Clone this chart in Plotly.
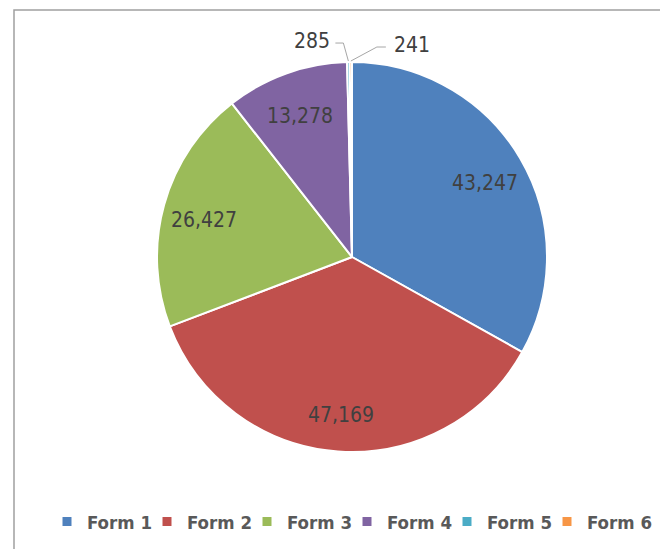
import math
import plotly.graph_objects as go

categories = ["Form 1", "Form 2", "Form 3", "Form 4", "Form 5", "Form 6"]
values = [43247, 47169, 26427, 13278, 285, 241]
colors = ["#4F81BD", "#C0504D", "#9BBB59", "#8064A2", "#4BACC6", "#F79646"]

W, H = 668, 549
OFF = 8  # page body margin
CX, CY, R = 352, 257, 195
FONT = "Liberation Sans Narrow, DejaVu Sans Condensed, Arial Narrow, sans-serif"
LABEL_COLOR = "#404040"
LEGEND_PITCH = 100
LEG_X0 = 47


def px(x, y):
    return (x - OFF) / W, 1 - (y - OFF) / H


fig = go.Figure()
x0, y0 = px(CX - R, CY + R)
x1, y1 = px(CX + R, CY - R)
fig.add_trace(go.Pie(
    labels=categories, values=values, sort=False, direction="clockwise", rotation=0,
    marker=dict(colors=colors, line=dict(color="white", width=2)),
    textinfo="none", hoverinfo="label+value", showlegend=False,
    domain=dict(x=[x0, x1], y=[y0, y1]),
))

# legend entries (square markers), one small legend per entry for Excel-like even spacing
leg_font = dict(family=FONT, size=18.5, color="#595959", weight="bold")
legend_layouts = {}
for i, (name, c) in enumerate(zip(categories, colors)):
    key = "legend" if i == 0 else f"legend{i + 1}"
    fig.add_trace(go.Scatter(x=[None], y=[None], mode="markers", name=name, legend=key,
                             marker=dict(symbol="square", size=9, color=c)))
    lx, ly = px(LEG_X0 + LEGEND_PITCH * i, 522)
    legend_layouts[key] = dict(orientation="h", x=lx, y=ly, xanchor="left", yanchor="middle",
                               font=leg_font, itemwidth=30, tracegroupgap=0,
                               bgcolor="rgba(0,0,0,0)")

annotations = []
shapes = []
total = sum(values)
cum = 0
# leader styling for the small slices: (elbow dx, elbow dy, end dx, side)
leaders = {4: (-5, -18, -13, "right"), 5: (26, -14, 35, "left")}
for i, v in enumerate(values):
    mid = (cum + v / 2) / total * 2 * math.pi
    cum += v
    sx, sy = math.sin(mid), -math.cos(mid)
    text = f"{v:,}"
    if i in leaders:
        ex, ey = CX + (R + 1) * sx, CY + (R + 1) * sy
        edx, edy, endx, side = leaders[i]
        bx, by = ex + edx, ey + edy
        fx, fy = ex + endx, by
        p = [px(ex, ey), px(bx, by), px(fx, fy)]
        shapes.append(dict(type="path", xref="paper", yref="paper",
                           path="M{},{} L{},{} L{},{}".format(p[0][0], p[0][1], p[1][0], p[1][1], p[2][0], p[2][1]),
                           line=dict(color="#A6A6A6", width=1)))
        tx = fx - 3 if side == "right" else fx + 6
        ax_, ay_ = px(tx, fy - 2)
        annotations.append(dict(x=ax_, y=ay_, xref="paper", yref="paper", text=text, showarrow=False,
                                xanchor=side, yanchor="middle",
                                font=dict(family=FONT, size=21, color=LABEL_COLOR)))
    else:
        lx, ly = CX + 0.79 * R * sx, CY + 0.79 * R * sy + 4
        ax_, ay_ = px(lx, ly)
        annotations.append(dict(x=ax_, y=ay_, xref="paper", yref="paper", text=text, showarrow=False,
                                xanchor="center", yanchor="middle",
                                font=dict(family=FONT, size=21, color=LABEL_COLOR)))

# chart frame
fx0, fy0 = px(14, 10)
shapes.append(dict(type="rect", xref="paper", yref="paper", x0=fx0, y0=-0.1, x1=1.1, y1=fy0,
                   line=dict(color="#A0A0A0", width=1.5), fillcolor="rgba(0,0,0,0)", layer="below"))

fig.update_layout(
    width=W, height=H, margin=dict(l=0, r=0, t=0, b=0),
    paper_bgcolor="white", plot_bgcolor="white",
    xaxis=dict(visible=False), yaxis=dict(visible=False),
    annotations=annotations, shapes=shapes,
    showlegend=True,
    **legend_layouts,
)
fig.write_html("out.html")
